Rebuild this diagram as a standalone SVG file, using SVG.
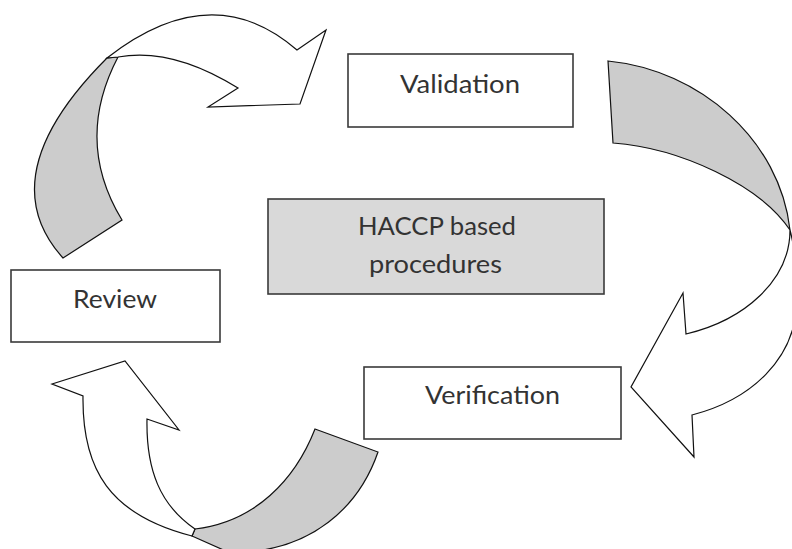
<svg xmlns="http://www.w3.org/2000/svg" width="792" height="549" viewBox="0 0 792 549">
<style>
.box{fill:#ffffff;stroke:#3a3a3a;stroke-width:1.6}
.core{fill:#d9d9d9;stroke:#3a3a3a;stroke-width:1.6}
.lbl{font-family:Lato,"Open Sans",sans-serif;font-size:25px;fill:#333333}
.back{fill:#cccccc;stroke:#111111;stroke-width:1.2;stroke-linejoin:miter}
.front{fill:#ffffff;stroke:#111111;stroke-width:1.2;stroke-linejoin:miter}
</style>
<rect width="792" height="549" fill="#ffffff"/>
<g id="connectors">
  <g id="arrow-review-validation">
    <path class="back" d="M63,258 Q-11,176 107,58 L118,57 Q74,141 122,220 Z"/>
    <path class="front" d="M107,58 Q212,-24 297,50 L326,30 L300,104 L208,107 L238,88 Q172,47 118,57 Z"/>
  </g>
  <g id="arrow-validation-verification">
    <path class="back" d="M608,61 C700,70 780,140 790,230 C760,185 680,148 613,143 Z"/>
    <path class="front" d="M790,230 C790,280 745,320 686,334 L683,293 L631,387 L694,457 L692,415 C750,400 796,360 797,300 C797,270 794,245 790,230 Z"/>
  </g>
  <g id="arrow-verification-review">
    <path class="back" d="M315,429 L378,452 C358,510 310,548 245,552 L228,552 L192,536 L195,529 C255,522 295,480 315,429 Z"/>
    <path class="front" d="M195,529 C160,505 146,470 147,419 L179,430 L125,361 L52,384 L83,396 C82,470 110,515 192,536 Z"/>
  </g>
</g>
<g id="node-validation">
  <rect class="box" x="348" y="54" width="225" height="73"/>
  <text class="lbl" x="400" y="93" textLength="120" lengthAdjust="spacingAndGlyphs">Validation</text>
</g>
<g id="node-haccp">
  <rect class="core" x="268" y="199" width="336" height="95"/>
  <text class="lbl" x="358" y="235" textLength="158" lengthAdjust="spacingAndGlyphs">HACCP based</text>
  <text class="lbl" x="369" y="273" textLength="133" lengthAdjust="spacingAndGlyphs">procedures</text>
</g>
<g id="node-review">
  <rect class="box" x="11" y="270" width="209" height="72"/>
  <text class="lbl" x="73" y="308" textLength="84" lengthAdjust="spacingAndGlyphs">Review</text>
</g>
<g id="node-verification">
  <rect class="box" x="364" y="367" width="257" height="72"/>
  <text class="lbl" x="425" y="404" textLength="135" lengthAdjust="spacingAndGlyphs">Verification</text>
</g>
</svg>
